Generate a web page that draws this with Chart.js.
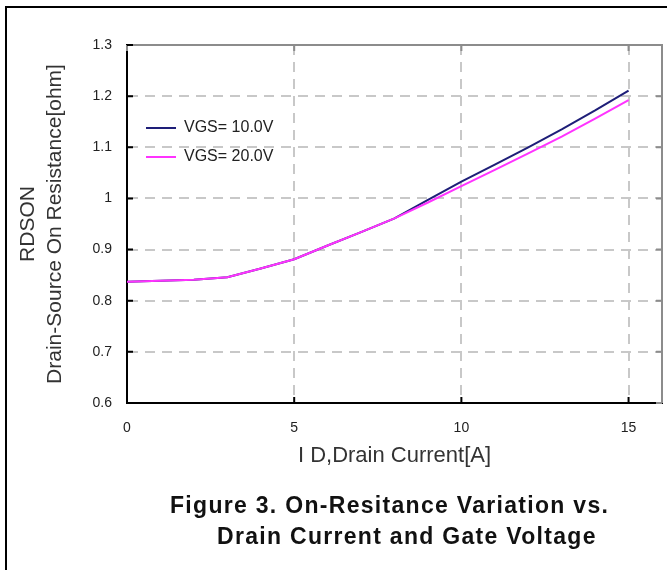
<!DOCTYPE html>
<html>
<head>
<meta charset="utf-8">
<script src="https://cdn.jsdelivr.net/npm/chart.js@4.4.0/dist/chart.umd.min.js"></script>
<style>
  html, body { margin: 0; padding: 0; background: #fff; }
  #wrap { position: relative; width: 667px; height: 570px; overflow: hidden; }
  #frame { position: absolute; left: 5px; top: 6px; right: -10px; bottom: -10px; border-left: 2px solid #000; border-top: 2px solid #000; }
  canvas { position: absolute; left: 0; top: 0; }
  .cap { position: absolute; font: bold 23px "Liberation Sans", Arial, sans-serif; line-height: 23px; letter-spacing: 1.3px; color: #111; white-space: nowrap; }
</style>
</head>
<body>
<div id="wrap">
  <div id="frame"></div>
  <canvas id="chart" width="667" height="570"></canvas>
  <div class="cap" style="left:170px; top:494px;">Figure 3. On-Resitance Variation vs.</div>
  <div class="cap" style="left:217px; top:525px;">Drain Current and Gate Voltage</div>
</div>
<script>
// values
const drainCurrent = [0, 1, 2, 3, 4, 5, 6, 7, 8, 9, 10, 11, 12, 13, 14, 15];
const rdsVgs10 = [0.837, 0.839, 0.841, 0.846, 0.863, 0.881, 0.908, 0.934, 0.961, 0.997, 1.033, 1.066, 1.100, 1.135, 1.172, 1.211];
const rdsVgs20 = [0.837, 0.839, 0.841, 0.846, 0.863, 0.881, 0.908, 0.934, 0.961, 0.992, 1.024, 1.056, 1.088, 1.121, 1.156, 1.192];
const seriesLabels = ['VGS= 10.0V', 'VGS= 20.0V'];
const xTicks = [0, 5, 10, 15];
const yTicks = [0.6, 0.7, 0.8, 0.9, 1.0, 1.1, 1.2, 1.3];

const FONT = '"Liberation Sans", Arial, sans-serif';
const GRID = '#c8c8c8';

const toPoints = (ys) => drainCurrent.map((x, i) => ({ x, y: ys[i] }));

// legend sits inside the plot, near the top-left
const legendPlacer = {
    id: 'legendPlacer',
    afterLayout(chart) {
        const a = chart.chartArea;
        chart.legend.left = a.left + 6;
        chart.legend.top = a.top + 62;
    },
};

// gray top/right frame plus the small inside tick marks
const plotFrame = {
    id: 'plotFrame',
    beforeDatasetsDraw(chart) {
        const { ctx, chartArea: a, scales } = chart;
        ctx.save();
        ctx.lineWidth = 2;
        ctx.strokeStyle = '#8c8c8c';
        ctx.beginPath();
        ctx.moveTo(a.left, a.top);
        ctx.lineTo(a.right, a.top);
        ctx.lineTo(a.right, a.bottom);
        ctx.stroke();
        ctx.beginPath();
        scales.x.ticks.forEach(t => {
            const px = scales.x.getPixelForValue(t.value);
            ctx.moveTo(px, a.top); ctx.lineTo(px, a.top + 6);
        });
        scales.y.ticks.forEach(t => {
            const py = scales.y.getPixelForValue(t.value);
            ctx.moveTo(a.right, py); ctx.lineTo(a.right - 6, py);
        });
        ctx.stroke();
        ctx.strokeStyle = '#000';
        ctx.beginPath();
        scales.x.ticks.forEach(t => {
            const px = scales.x.getPixelForValue(t.value);
            ctx.moveTo(px, a.bottom); ctx.lineTo(px, a.bottom - 6);
        });
        scales.y.ticks.forEach(t => {
            const py = scales.y.getPixelForValue(t.value);
            ctx.moveTo(a.left, py); ctx.lineTo(a.left + 6, py);
        });
        ctx.stroke();
        ctx.restore();
    },
};

new Chart(document.getElementById('chart'), {
    type: 'line',
    data: {
        datasets: [
            { label: seriesLabels[0], data: toPoints(rdsVgs10), borderColor: '#1e1e78', order: 1 },
            { label: seriesLabels[1], data: toPoints(rdsVgs20), borderColor: '#ff33ff', order: 0 },
        ],
    },
    options: {
        responsive: false,
        animation: false,
        datasets: { line: { borderWidth: 2, pointRadius: 0, tension: 0, fill: false } },
        layout: { padding: { top: 45, right: 5, bottom: 97, left: 0 } },
        plugins: {
            tooltip: { enabled: false },
            legend: {
                position: 'chartArea',
                align: 'start',
                labels: {
                    usePointStyle: true,
                    pointStyle: 'line',
                    pointStyleWidth: 30,
                    padding: 13,
                    color: '#222',
                    font: { family: FONT, size: 16 },
                    sort: (a, b) => a.datasetIndex - b.datasetIndex,
                },
            },
        },
        scales: {
            x: {
                type: 'linear',
                min: 0,
                max: 16,
                afterBuildTicks: s => { s.ticks = xTicks.map(value => ({ value })); },
                afterFit: s => { s.height = 70; },
                grid: {
                    color: c => (c.tick && c.tick.value === 0 ? 'transparent' : GRID),
                    lineWidth: 2,
                    drawTicks: false,
                },
                border: { color: '#000', width: 2, dash: [10, 7] },
                ticks: { padding: 17, color: '#222', font: { family: FONT, size: 14 } },
                title: {
                    display: true,
                    text: 'I D,Drain Current[A]',
                    color: '#333',
                    font: { family: FONT, size: 22 },
                    padding: { top: 0, bottom: 4 },
                },
            },
            y: {
                min: 0.6,
                max: 1.3,
                afterBuildTicks: s => { s.ticks = yTicks.map(value => ({ value })); },
                afterFit: s => { s.width = 127; },
                grid: {
                    color: c => (c.tick && (c.tick.value <= 0.6 || c.tick.value >= 1.3) ? 'transparent' : GRID),
                    lineWidth: 2,
                    drawTicks: false,
                },
                border: { color: '#000', width: 2, dash: [10, 7] },
                ticks: {
                    padding: 15,
                    color: '#222',
                    font: { family: FONT, size: 14 },
                    callback: v => String(Number(v.toFixed(1))),
                },
                title: {
                    display: true,
                    text: ['RDSON', 'Drain-Source On Resistance[ohm]'],
                    color: '#333',
                    font: { family: FONT, size: 21, lineHeight: 1.29 },
                    padding: { top: 15, bottom: 0 },
                },
            },
        },
    },
    plugins: [legendPlacer, plotFrame],
});
</script>
</body>
</html>
